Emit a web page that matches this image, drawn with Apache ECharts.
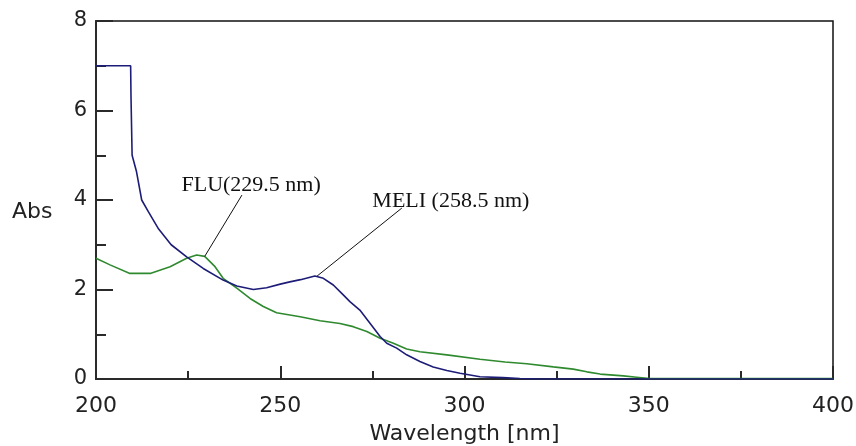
<!DOCTYPE html>
<html>
<head>
<meta charset="utf-8">
<script src="https://cdn.jsdelivr.net/npm/echarts@6/dist/echarts.min.js"></script>
<style>
html,body{margin:0;padding:0;background:#fff;}
#c{width:856px;height:446px;}
</style>
</head>
<body>
<div id="c"></div>
<script>
// ---- data ----
var meliWavelength = [200, 209.4, 209.5, 209.8, 211.0, 212.4, 214.2, 217.0, 220.4, 224.6, 229.1, 234.5, 238.2, 242.7, 246.3, 250, 252.6, 255.5, 259.4, 261.7, 264.4, 267.1, 268.9, 271.6, 274.4, 277.1, 278.9, 281.6, 284.3, 287.9, 291.5, 295.2, 298.8, 304.2, 310.4, 315, 320, 400];
var meliAbs = [7.0, 7.0, 6.3, 5.0, 4.63, 4.0, 3.74, 3.35, 3.0, 2.73, 2.47, 2.21, 2.08, 2.00, 2.04, 2.12, 2.17, 2.22, 2.30, 2.25, 2.10, 1.88, 1.73, 1.54, 1.24, 0.95, 0.80, 0.69, 0.54, 0.39, 0.27, 0.19, 0.13, 0.05, 0.03, 0.01, 0, 0];

var fluWavelength = [200, 203.8, 209.2, 214.7, 220.1, 224.6, 227.3, 229.5, 232.3, 234.5, 238.2, 241.8, 245.4, 249.0, 252.6, 255.4, 260.8, 266.2, 269.8, 273.5, 277.1, 280.7, 284.3, 287.9, 295.2, 304.2, 311.0, 316.9, 324.1, 329.5, 333.2, 336.8, 343.1, 346.7, 350.3, 400];
var fluAbs = [2.70, 2.55, 2.36, 2.36, 2.51, 2.70, 2.77, 2.74, 2.51, 2.25, 2.03, 1.80, 1.62, 1.48, 1.43, 1.39, 1.30, 1.24, 1.17, 1.06, 0.91, 0.80, 0.67, 0.61, 0.54, 0.44, 0.38, 0.34, 0.27, 0.22, 0.16, 0.11, 0.07, 0.04, 0.01, 0.01];

var xTicks = [200, 250, 300, 350, 400];
var yTicks = [0, 2, 4, 6, 8];

// annotations: label text, label anchor, leader start (on curve), leader end
var fluLabel = 'FLU(229.5 nm)';
var fluLabelAt = [242.1, 4.32];
var fluLeader = [[229.5, 2.74], [239.6, 4.11]];
var meliLabel = 'MELI (258.5 nm)';
var meliLabelAt = [296.3, 3.97];
var meliLeader = [[260.0, 2.30], [283.0, 3.82]];

function pairs(xs, ys){ return xs.map(function(x,i){ return [x, ys[i]]; }); }

var chart = echarts.init(document.getElementById('c'));
var axisColor = '#2a2a2a';
var sansFont = 'DejaVu Sans';
var serifFont = 'Liberation Serif';

function annot(labelText, at, leader){
  return {
    markLine: {
      silent: true, symbol: ['none','none'], animation: false,
      label: {show: false},
      lineStyle: {color: '#111', width: 1, type: 'solid'},
      data: [[{coord: leader[0]}, {coord: leader[1]}]]
    },
    markPoint: {
      silent: true, animation: false,
      symbol: 'circle', symbolSize: 1,
      itemStyle: {color: 'rgba(0,0,0,0)'},
      label: {show: true, position: 'inside', formatter: labelText,
        color: '#111', fontFamily: serifFont, fontSize: 22},
      data: [{coord: at}]
    }
  };
}

var fluAnn = annot(fluLabel, fluLabelAt, fluLeader);
var meliAnn = annot(meliLabel, meliLabelAt, meliLeader);

chart.setOption({
  animation: false,
  backgroundColor: '#fff',
  grid: {left: 96, right: 23, top: 21, bottom: 67, outerBoundsMode: 'none', containLabel: false,
    show: true, borderColor: '#111', borderWidth: 1.5, backgroundColor: 'transparent'},
  xAxis: {
    type: 'value', min: xTicks[0], max: xTicks[xTicks.length-1], interval: 50,
    name: 'Wavelength [nm]', nameLocation: 'middle', nameGap: 44,
    nameTextStyle: {color: '#222', fontFamily: sansFont, fontSize: 22},
    axisLine: {show: true, onZero: false, lineStyle: {color: axisColor, width: 2}},
    axisTick: {show: true, inside: true, length: 13, lineStyle: {color: axisColor, width: 2}},
    minorTick: {show: true, splitNumber: 2, length: 8, lineStyle: {color: axisColor, width: 2}},
    splitLine: {show: false},
    axisLabel: {color: '#222', fontFamily: sansFont, fontSize: 22, margin: 16}
  },
  yAxis: {
    type: 'value', min: yTicks[0], max: yTicks[yTicks.length-1], interval: 2,
    axisLine: {show: true, onZero: false, lineStyle: {color: axisColor, width: 2}},
    axisTick: {show: true, inside: true, length: 17, lineStyle: {color: axisColor, width: 2}},
    minorTick: {show: true, splitNumber: 2, length: 10, lineStyle: {color: axisColor, width: 2}},
    splitLine: {show: false},
    axisLabel: {color: '#222', fontFamily: sansFont, fontSize: 21, margin: 9}
  },
  graphic: [{
    type: 'text', left: 12, top: 201,
    style: {text: 'Abs', fill: '#222', font: '22px "DejaVu Sans"'}
  }],
  series: [
    {
      name: 'FLU', type: 'line', data: pairs(fluWavelength, fluAbs),
      showSymbol: false, symbol: 'none',
      lineStyle: {color: '#2f8a2f', width: 1.6}, z: 2,
      markLine: fluAnn.markLine, markPoint: fluAnn.markPoint
    },
    {
      name: 'MELI', type: 'line', data: pairs(meliWavelength, meliAbs),
      showSymbol: false, symbol: 'none',
      lineStyle: {color: '#1d1d78', width: 1.6}, z: 3,
      markLine: meliAnn.markLine, markPoint: meliAnn.markPoint
    }
  ]
});
</script>
</body>
</html>
